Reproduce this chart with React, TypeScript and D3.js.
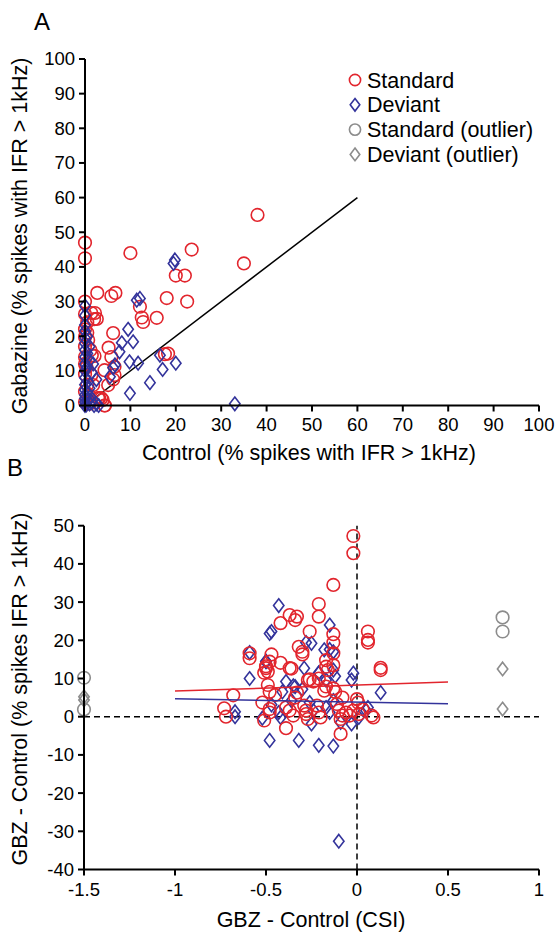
import React from "react";
import * as d3 from "d3";

// ---------- Panel A data ----------
const aStandard: [number, number][] = [
  [0, 47], [0, 42.5], [10, 44], [23.5, 45], [38, 55], [35, 41], [20, 37.5], [22, 37.5],
  [18, 31], [22.5, 30], [12.1, 28.5], [12.5, 25.4], [12.8, 24.1], [15.8, 25.3],
  [2.7, 32.5], [5.8, 31.6], [6.7, 32.5], [2.2, 26.7], [2.6, 25], [6.2, 20.9], [5.2, 16.7],
  [5.8, 14], [6.5, 11.2], [4.3, 10.2], [6.5, 8.8], [6.2, 7.5], [5.1, 5.9], [17.6, 14.8],
  [18.3, 15], [3.1, 2.1], [3.9, 1.6], [4.4, 0], [0, 26.4], [1.4, 26.7], [2, 24.9],
  [1.5, 14.5], [2.1, 14.3], [0, 19.8], [0.7, 18.9], [0, 14], [1.4, 8.8], [1.8, 5.9],
  [2.9, 2.1], [3.6, 2.1], [4.3, 0], [0, 22], [0.5, 21], [0, 17], [0.3, 11], [0, 9],
  [0.5, 6], [0, 4], [0.8, 3], [0, 1], [1, 0.5], [0, 12], [1.2, 16], [0.5, 24], [0, 30],
];
const aDeviant: [number, number][] = [
  [33, 0.5], [19.8, 42], [19.5, 41], [11.4, 30.4], [12.1, 30.9], [9.5, 22], [10.6, 18.4],
  [8.1, 18.1], [7.6, 15.5], [6.6, 11.7], [9.8, 12.6], [11.7, 12.2], [14.3, 6.6], [9.9, 3.5],
  [16.5, 14.5], [17.1, 10.4], [20, 12.2], [5.5, 8.3], [6.2, 10.9], [0, 28.7], [0, 23.2],
  [0, 26], [0.5, 20], [0, 18], [1, 17], [0, 16], [0.5, 15], [0, 14], [1, 13], [0, 12],
  [0.4, 11], [0, 10], [1.5, 9.5], [0, 8], [0.7, 7], [0, 6], [1, 5], [0, 4.5], [0.5, 3.5],
  [0, 3], [1.2, 2.5], [0, 2], [0.6, 1.5], [0, 1], [1, 0.5], [0, 0], [2, 0], [0.3, 0.2],
  [1.5, 1], [2.5, 0.5], [3, 0], [0, 19.5], [0, 21.5], [1.8, 12], [2.5, 7.5],
];
const aUnityLine: [number, number][] = [[0, 0], [60, 60]];
const aTicks = [0, 10, 20, 30, 40, 50, 60, 70, 80, 90, 100];

// ---------- Panel B data ----------
const bStandard: [number, number][] = [
  [-0.02, 47.3], [-0.02, 42.8], [-0.13, 34.5], [-0.21, 29.5], [-0.21, 26.2], [-0.37, 26.6],
  [-0.33, 26.2], [-0.34, 25.3], [-0.42, 24.5], [-0.26, 22.3], [-0.13, 21.6], [-0.13, 19.4],
  [-0.13, 16.6], [-0.32, 18.3], [-0.30, 17], [-0.30, 16.3], [0.06, 22.3], [0.06, 20.1],
  [0.06, 19.4], [-0.59, 16.6], [-0.59, 15.3], [-0.47, 16.3], [-0.48, 14.4], [-0.50, 12.7],
  [-0.49, 11.8], [-0.42, 14.1], [-0.37, 12.7], [-0.17, 14.8], [-0.17, 13.1], [-0.13, 13.5],
  [-0.16, 12.2], [0.13, 12.8], [0.13, 12.2], [-0.49, 8.3], [-0.48, 6.5], [-0.45, 5.7],
  [-0.68, 5.6], [-0.27, 9.6], [-0.24, 9.2], [-0.21, 10], [-0.17, 7.9], [-0.13, 7.4],
  [-0.12, 6.5], [-0.18, 6.8], [-0.33, 6.3], [-0.34, 5.0], [-0.73, 2.2], [-0.72, 0],
  [-0.52, 3.7], [-0.51, -1.0], [-0.48, 2.0], [-0.48, 1.1], [-0.39, 2.4], [-0.37, 1.6],
  [-0.35, 0.3], [-0.39, -3.0], [-0.29, 2.9], [-0.28, 1.6], [-0.28, 0.7], [-0.27, -0.6],
  [-0.21, 1.1], [-0.20, -0.2], [-0.22, 2.9], [-0.11, 3.3], [-0.10, 1.6], [-0.08, 0.3],
  [-0.09, -0.6], [-0.09, -4.5], [-0.06, 1.1], [-0.04, 0.3], [-0.02, 1.6], [0.01, 0.7],
  [0.03, 2.0], [0, 4.6], [0.006, 3.7], [0.09, -0.2], [0.08, 0.3], [-0.08, 5.0],
  [-0.26, 9.8], [-0.36, 12.6], [-0.51, 11.5], [-0.50, 13.2],
];
const bDeviant: [number, number][] = [
  [-0.43, 29.1], [-0.47, 22.3], [-0.48, 21.8], [-0.28, 19.4], [-0.15, 24], [-0.15, 17.6],
  [-0.59, 16.8], [-0.25, 19.2], [-0.13, 17], [-0.50, 14.4], [-0.29, 12.7], [-0.59, 10],
  [-0.18, 17.5], [-0.21, 11.4], [-0.13, 12.2], [-0.02, 11.4], [-0.03, 9.6], [-0.39, 9.2],
  [-0.34, 7.9], [-0.41, 6.5], [-0.17, 9.6], [-0.67, 1.3], [-0.67, 0], [-0.52, -0.4],
  [-0.47, 3.1], [-0.48, -6.2], [-0.32, -6.2], [-0.21, -7.5], [-0.13, -7.7], [-0.10, -32.6],
  [0.13, 6.3], [0.06, 2.4], [0.05, 1.6], [-0.43, 1.1], [-0.42, -0.2], [-0.36, 4.2],
  [-0.26, 3.7], [-0.24, 1.6], [-0.25, -1.9], [-0.17, 2.4], [-0.15, 1.1], [-0.13, 4.2],
  [-0.09, -1.5], [-0.03, -1.9], [0.01, -0.2], [-0.12, 10.6], [-0.21, 11.5], [-0.30, 7.2],
  [-0.35, 8.1], [-0.50, 14.5],
];
const bStandardOutlier: [number, number][] = [[-1.5, 10.2], [-1.5, 1.9], [0.8, 26], [0.8, 22.3]];
const bDeviantOutlier: [number, number][] = [[-1.5, 5.2], [-1.5, 4.4], [0.8, 12.5], [0.8, 2]];
const bStandardFit: [number, number][] = [[-1, 6.7], [0.5, 9.1]];
const bDeviantFit: [number, number][] = [[-1, 4.7], [0.5, 3.4]];
const bXTicks = [-1.5, -1, -0.5, 0, 0.5, 1];
const bYTicks = [-40, -30, -20, -10, 0, 10, 20, 30, 40, 50];

const legendItems = [
  { label: "Standard", shape: "circle", color: "red" },
  { label: "Deviant", shape: "diamond", color: "blue" },
  { label: "Standard (outlier)", shape: "circle", color: "gray" },
  { label: "Deviant (outlier)", shape: "diamond", color: "gray" },
];

const RED = "#e2252d";
const BLUE = "#33339b";
const GRAY = "#8c8c8c";
const colorMap: Record<string, string> = { red: RED, blue: BLUE, gray: GRAY };
const FONT = "'Liberation Sans', Arial, Helvetica, sans-serif";

const R = 6.3;
const DW = 5.2;
const DH = 6.8;

function Circle({ x, y, color, r = R, sw = 1.6 }: any) {
  return <circle cx={x} cy={y} r={r} fill="none" stroke={color} strokeWidth={sw} />;
}
function Diamond({ x, y, color, w = DW, h = DH, sw = 1.6 }: any) {
  const d = `M${x},${y - h}L${x + w},${y}L${x},${y + h}L${x - w},${y}Z`;
  return <path d={d} fill="none" stroke={color} strokeWidth={sw} />;
}

export default function App() {
  const ax = d3.scaleLinear().domain([0, 100]).range([85, 539]);
  const ay = d3.scaleLinear().domain([0, 100]).range([405.5, 59]);
  const bx = d3.scaleLinear().domain([-1.5, 1]).range([84, 539]);
  const by = d3.scaleLinear().domain([-40, 50]).range([869.5, 525.7]);
  const line = (sx: any, sy: any) =>
    d3.line<[number, number]>().x((d) => sx(d[0])).y((d) => sy(d[1]));

  const tickFont = 18.5;
  const titleFont = 21.5;

  return (
    <svg width={560} height={933} style={{ position: "absolute", left: 0, top: 0, fontFamily: FONT }}>
      <rect width={560} height={933} fill="#fff" />
      <text x={34} y={30} fontSize={24}>A</text>
      <text x={7} y={476} fontSize={24}>B</text>

      {/* ---------- Panel A ---------- */}
      <path d={line(ax, ay)(aUnityLine) || ""} stroke="#000" strokeWidth={1.5} fill="none" />
      {aStandard.map((d, i) => (
        <Circle key={"as" + i} x={ax(d[0])} y={ay(d[1])} color={RED} />
      ))}
      {aDeviant.map((d, i) => (
        <Diamond key={"ad" + i} x={ax(d[0])} y={ay(d[1])} color={BLUE} />
      ))}
      <line x1={ax(0)} x2={ax(0)} y1={ay(0) + 1} y2={ay(100)} stroke="#000" strokeWidth={2} />
      <line x1={ax(0) - 1} x2={ax(100)} y1={ay(0)} y2={ay(0)} stroke="#000" strokeWidth={2} />
      {aTicks.map((t) => (
        <g key={"ayt" + t}>
          <line x1={ax(0) - 6} x2={ax(0)} y1={ay(t)} y2={ay(t)} stroke="#000" strokeWidth={2} />
          <text x={ax(0) - 10} y={ay(t)} dy="0.35em" textAnchor="end" fontSize={tickFont}>{t}</text>
        </g>
      ))}
      {aTicks.map((t) => (
        <g key={"axt" + t}>
          <line x1={ax(t)} x2={ax(t)} y1={ay(0)} y2={ay(0) + 6} stroke="#000" strokeWidth={2} />
          <text x={ax(t)} y={ay(0) + 25} textAnchor="middle" fontSize={tickFont}>{t}</text>
        </g>
      ))}
      <text x={309} y={460} textAnchor="middle" fontSize={titleFont}>Control (% spikes with IFR &gt; 1kHz)</text>
      <text transform="translate(27,236) rotate(-90)" textAnchor="middle" fontSize={titleFont}>
        Gabazine (% spikes with IFR &gt; 1kHz)
      </text>

      {/* Legend */}
      {legendItems.map((it, i) => {
        const y = 80 + i * 24.8;
        const c = colorMap[it.color];
        return (
          <g key={"lg" + i}>
            {it.shape === "circle" ? (
              <Circle x={355} y={y} color={c} r={5.6} />
            ) : (
              <Diamond x={355} y={y} color={c} w={4.8} h={6.3} />
            )}
            <text x={367} y={y} dy="0.35em" fontSize={titleFont}>{it.label}</text>
          </g>
        );
      })}

      {/* ---------- Panel B ---------- */}
      <line x1={bx(-1.5)} x2={bx(1)} y1={by(0)} y2={by(0)} stroke="#000" strokeWidth={1.5} strokeDasharray="6,4" />
      <line x1={bx(0)} x2={bx(0)} y1={by(-40)} y2={by(50)} stroke="#000" strokeWidth={1.5} strokeDasharray="6,4" />
      {bDeviant.map((d, i) => (
        <Diamond key={"bd" + i} x={bx(d[0])} y={by(d[1])} color={BLUE} />
      ))}
      {bStandard.map((d, i) => (
        <Circle key={"bs" + i} x={bx(d[0])} y={by(d[1])} color={RED} />
      ))}
      {bStandardOutlier.map((d, i) => (
        <Circle key={"bso" + i} x={bx(d[0])} y={by(d[1])} color={GRAY} />
      ))}
      {bDeviantOutlier.map((d, i) => (
        <Diamond key={"bdo" + i} x={bx(d[0])} y={by(d[1])} color={GRAY} />
      ))}
      <path d={line(bx, by)(bStandardFit) || ""} stroke={RED} strokeWidth={1.5} fill="none" />
      <path d={line(bx, by)(bDeviantFit) || ""} stroke={BLUE} strokeWidth={1.5} fill="none" />
      <line x1={bx(-1.5)} x2={bx(-1.5)} y1={by(-40) + 1} y2={by(50)} stroke="#000" strokeWidth={2} />
      <line x1={bx(-1.5) - 1} x2={bx(1)} y1={by(-40)} y2={by(-40)} stroke="#000" strokeWidth={2} />
      {bYTicks.map((t) => (
        <g key={"byt" + t}>
          <line x1={bx(-1.5) - 6} x2={bx(-1.5)} y1={by(t)} y2={by(t)} stroke="#000" strokeWidth={2} />
          <text x={bx(-1.5) - 10} y={by(t)} dy="0.35em" textAnchor="end" fontSize={tickFont}>{t}</text>
        </g>
      ))}
      {bXTicks.map((t) => (
        <g key={"bxt" + t}>
          <line x1={bx(t)} x2={bx(t)} y1={by(-40)} y2={by(-40) + 6} stroke="#000" strokeWidth={2} />
          <text x={bx(t)} y={by(-40) + 26} textAnchor="middle" fontSize={tickFont}>{t}</text>
        </g>
      ))}
      <text x={311} y={927} textAnchor="middle" fontSize={titleFont}>GBZ - Control (CSI)</text>
      <text transform="translate(27,689) rotate(-90)" textAnchor="middle" fontSize={titleFont}>
        GBZ - Control (% spikes IFR &gt; 1kHz)
      </text>
    </svg>
  );
}
